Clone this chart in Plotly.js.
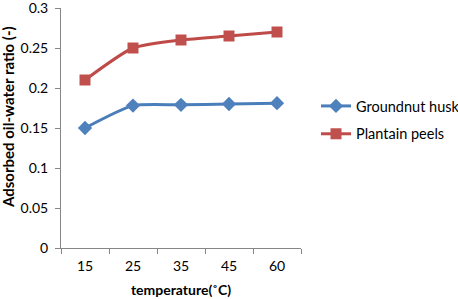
<!DOCTYPE html>
<html><head><meta charset="utf-8">
<script src="https://cdn.plot.ly/plotly-3.0.1.min.js"></script>
<style>html,body{margin:0;padding:0;background:#fff}</style>
</head><body>
<div id="chart" style="width:458px;height:299px"></div>
<script>
const categories = ['15', '25', '35', '45', '60'];
const groundnutHusk = [0.150, 0.178, 0.179, 0.180, 0.181];
const plantainPeels = [0.210, 0.250, 0.260, 0.265, 0.270];
const yTicks = [0, 0.05, 0.1, 0.15, 0.2, 0.25, 0.3];
const yTickLabels = ['0', '0.05', '0.1', '0.15', '0.2', '0.25', '0.3'];

const font = 'Lato, "Open Sans", sans-serif';
const traces = [
  {x: categories, y: groundnutHusk, name: 'Groundnut husk', legendgroup: 'g1', type: 'scatter', mode: 'lines+markers',
   line: {color: '#4A7EBB', width: 3, shape: 'spline', smoothing: 0.6},
   marker: {symbol: 'diamond', size: 11, color: '#4F81BD'}},
  {x: categories, y: plantainPeels, name: 'Plantain peels', legendgroup: 'g2', type: 'scatter', mode: 'lines+markers',
   line: {color: '#BE4B48', width: 3, shape: 'spline', smoothing: 0.6},
   marker: {symbol: 'square', size: 11, color: '#C0504D'}}
];
const plotTop = 8, plotBottom = 248;
const layout = {
  width: 458, height: 299,
  margin: {l: 61, r: 157, t: plotTop, b: 299 - plotBottom, autoexpand: false},
  paper_bgcolor: '#fff', plot_bgcolor: '#fff',
  font: {family: font, size: 14, color: '#000'},
  showlegend: true,
  legend: {xref: 'container', yref: 'container', x: 316 / 458, y: 1 - 90 / 299, xanchor: 'left', yanchor: 'top',
    font: {family: font, size: 14.5, color: '#000'}, bgcolor: 'rgba(0,0,0,0)', tracegroupgap: 6, traceorder: 'grouped'},
  xaxis: {type: 'category', range: [-0.5, 4.5], tickson: 'boundaries', ticks: 'outside', ticklen: 5, tickcolor: '#868686',
    showline: true, linecolor: '#868686', linewidth: 1, showgrid: false, zeroline: false, ticklabelstandoff: 5,
    tickfont: {family: font, size: 14}, title: {text: 'temperature(˚C)', font: {family: font, size: 14, weight: 'bold'}, standoff: 12}},
  yaxis: {range: [0, 0.3], tickvals: yTicks, ticktext: yTickLabels, ticks: 'outside', ticklen: 5, tickcolor: '#868686',
    showline: true, linecolor: '#868686', linewidth: 1, showgrid: false, zeroline: false, ticklabelstandoff: 4, ticklabeloverflow: 'allow',
    tickfont: {family: font, size: 14}},
  annotations: [{text: 'Adsorbed oil-water ratio (-)', textangle: -90, showarrow: false,
    xref: 'paper', yref: 'paper', x: (8 - 61) / 240, y: (plotBottom - 117) / (plotBottom - plotTop),
    xanchor: 'center', yanchor: 'middle', font: {family: font, size: 15, weight: 'bold', color: '#000'}}]
};
Plotly.newPlot('chart', traces, layout, {displayModeBar: false, staticPlot: true});
</script>
</body></html>
